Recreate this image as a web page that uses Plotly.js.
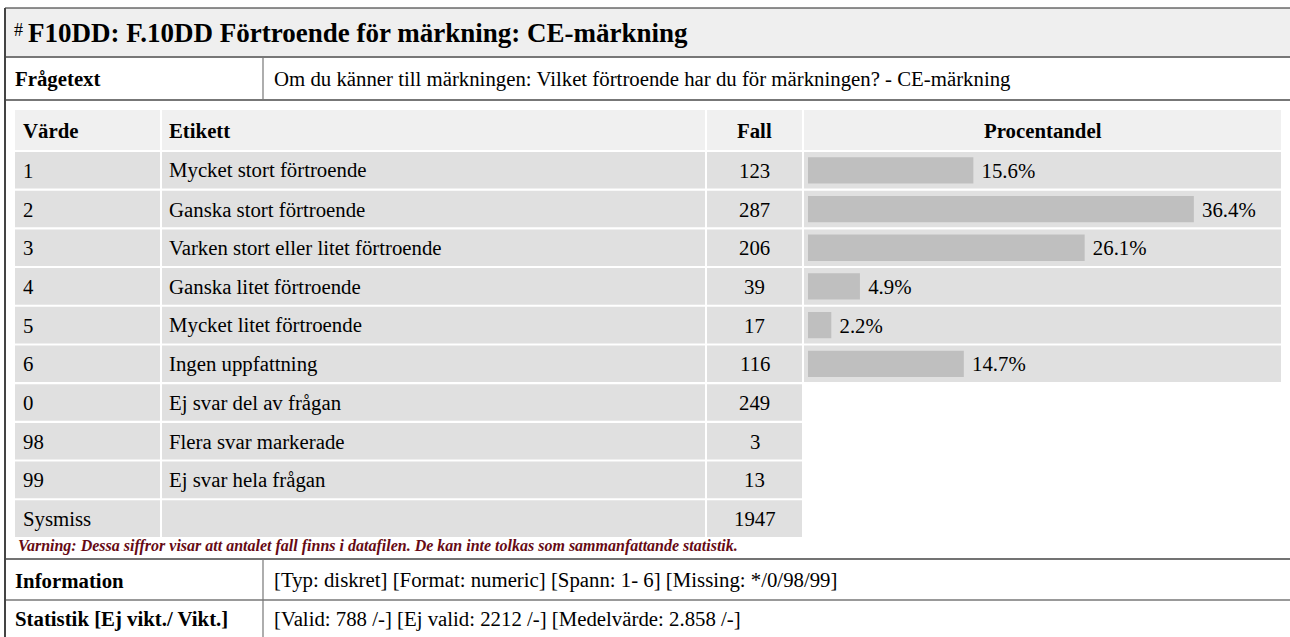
<!DOCTYPE html>
<html>
<head>
<meta charset="utf-8">
<script src="https://cdn.plot.ly/plotly-3.0.1.min.js"></script>
<style>html,body{margin:0;padding:0;background:#fff;}#chart{width:1290px;height:637px;}</style>
</head>
<body>
<div id="chart"></div>
<script>
// ---- data ----
const titleCode = 'F10DD: F.10DD Förtroende för märkning: CE-märkning';
const questionLabel = 'Frågetext';
const questionText = 'Om du känner till märkningen: Vilket förtroende har du för märkningen? - CE-märkning';
const headers = ['Värde', 'Etikett', 'Fall', 'Procentandel'];
const values = ['1', '2', '3', '4', '5', '6', '0', '98', '99', 'Sysmiss'];
const labels = ['Mycket stort förtroende', 'Ganska stort förtroende', 'Varken stort eller litet förtroende',
  'Ganska litet förtroende', 'Mycket litet förtroende', 'Ingen uppfattning', 'Ej svar del av frågan',
  'Flera svar markerade', 'Ej svar hela frågan', ''];
const cases = [123, 287, 206, 39, 17, 116, 249, 3, 13, 1947];
const validValues = ['1', '2', '3', '4', '5', '6'];
const percents = [15.6, 36.4, 26.1, 4.9, 2.2, 14.7];
const warningText = 'Varning: Dessa siffror visar att antalet fall finns i datafilen. De kan inte tolkas som sammanfattande statistik.';
const infoLabels = ['Information', 'Statistik [Ej vikt./ Vikt.]'];
const infoTexts = ['[Typ: diskret] [Format: numeric] [Spann: 1- 6] [Missing: */0/98/99]',
  '[Valid: 788 /-] [Ej valid: 2212 /-] [Medelvärde: 2.858 /-]'];

// ---- geometry (pixels) ----
const W = 1290, H = 637;
const FONT = 'Liberation Serif';
const FS = 20.8;
const colX = [15, 161, 706, 803, 1282];   // cell edges
const headTop = 110, headBot = 150;
const rowTop = 152, pitch = 38.7, rowH = 36.6;
const pxPerPct = 10.6;
const barX0 = 808;

const shapes = [];
const ann = [];
function rect(x0, y0, x1, y1, color) {
  shapes.push({type: 'rect', xref: 'x', yref: 'y', x0, y0, x1, y1, fillcolor: color, line: {width: 0}, layer: 'below'});
}
function line(x0, y0, x1, y1, color, w) {
  shapes.push({type: 'line', xref: 'x', yref: 'y', x0, y0, x1, y1, line: {color, width: w}, layer: 'above'});
}
function text(x, y, t, opt) {
  opt = opt || {};
  ann.push({xref: 'x', yref: 'y', x, y, text: t, showarrow: false,
    xanchor: opt.anchor || 'left', yanchor: 'middle',
    font: {family: FONT, size: opt.size || FS, color: opt.color || '#000'}});
}

// title box
rect(5, 8, W, 57, '#efefef');
line(5, 8, W, 8, '#222', 1.2);
line(5, 57, W, 57, '#777', 2);
line(5, 100, W, 100, '#777', 2);
line(5, 559, W, 559, '#444', 1.5);
line(5, 600, W, 600, '#777', 1.5);
line(5, 8, 5, H, '#444', 2);
line(263, 57, 263, 100, '#777', 1.2);
line(263, 559, 263, H, '#777', 1.2);

text(12, 30, '#', {size: 18});
text(26, 33, '<b>' + titleCode + '</b>', {size: 27});
text(13, 79, '<b>' + questionLabel + '</b>');
text(272, 79, questionText);

// header
for (let c = 0; c < 4; c++) rect(colX[c] + (c ? 1 : 0), headTop, colX[c + 1] - 1, headBot, '#f0f0f0');
const headY = (headTop + headBot) / 2;
text(21, headY, '<b>' + headers[0] + '</b>');
text(167, headY, '<b>' + headers[1] + '</b>');
text((colX[2] + colX[3]) / 2, headY, '<b>' + headers[2] + '</b>', {anchor: 'center'});
text((colX[3] + colX[4]) / 2, headY, '<b>' + headers[3] + '</b>', {anchor: 'center'});

// rows
values.forEach((v, i) => {
  const y0 = rowTop + pitch * i, y1 = y0 + rowH, yc = (y0 + y1) / 2;
  const nCols = i < validValues.length ? 4 : 3;
  for (let c = 0; c < nCols; c++) rect(colX[c] + (c ? 1 : 0), y0, colX[c + 1] - 1, y1, '#e0e0e0');
  text(21, yc, v);
  if (labels[i]) text(167, yc, labels[i]);
  text((colX[2] + colX[3]) / 2, yc, String(cases[i]), {anchor: 'center'});
});

text(16, 546, '<b><i>' + warningText + '</i></b>', {size: 16, color: '#660a14'});

text(13, 580, '<b>' + infoLabels[0] + '</b>');
text(272, 580, infoTexts[0]);
text(13, 619, '<b>' + infoLabels[1] + '</b>');
text(272, 619, infoTexts[1]);

const bandTop = rowTop - 1, bandBot = bandTop + pitch * validValues.length;

const trace = {
  type: 'bar', orientation: 'h', x: percents, y: validValues,
  xaxis: 'x2', yaxis: 'y2', width: 0.68,
  text: percents.map(p => '\u00a0' + p.toFixed(1) + '%'),
  textposition: 'outside', constraintext: 'none', cliponaxis: false,
  outsidetextfont: {family: FONT, size: FS, color: '#000'},
  marker: {color: '#bfbfbf', line: {width: 0}}, hoverinfo: 'skip'
};

const layout = {
  width: W, height: H, margin: {l: 0, r: 0, t: 0, b: 0},
  paper_bgcolor: '#fff', plot_bgcolor: 'rgba(0,0,0,0)', showlegend: false,
  font: {family: FONT},
  xaxis: {range: [0, W], domain: [0, 1], visible: false, fixedrange: true},
  yaxis: {range: [H, 0], domain: [0, 1], visible: false, fixedrange: true},
  xaxis2: {domain: [barX0 / W, colX[4] / W], range: [0, (colX[4] - barX0) / pxPerPct], visible: false, anchor: 'y2', fixedrange: true},
  yaxis2: {domain: [1 - bandBot / H, 1 - bandTop / H], type: 'category', categoryarray: validValues,
    autorange: 'reversed', visible: false, anchor: 'x2', fixedrange: true},
  shapes, annotations: ann
};

Plotly.newPlot('chart', [trace], layout, {displayModeBar: false, staticPlot: true});
</script>
</body>
</html>
